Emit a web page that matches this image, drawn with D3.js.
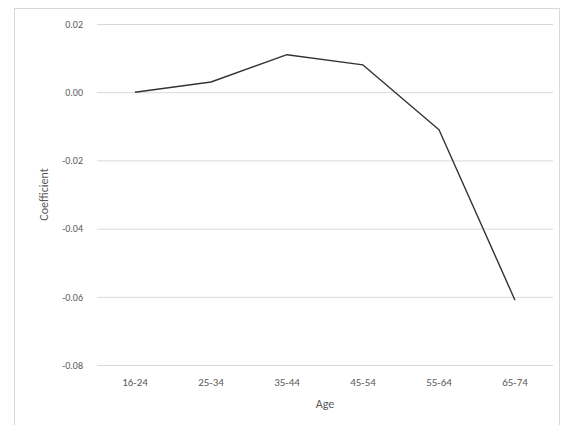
<!DOCTYPE html>
<html><head><meta charset="utf-8">
<script src="https://cdn.jsdelivr.net/npm/d3@7"></script>
<style>body{margin:0;background:#fff;} svg{display:block;}</style>
</head><body>
<svg id="c" width="566" height="425"></svg>
<script>
const categories = ["16-24","25-34","35-44","45-54","55-64","65-74"];
const coefficients = [0.000, 0.003, 0.011, 0.008, -0.011, -0.061];
const yTicks = [0.02, 0.00, -0.02, -0.04, -0.06, -0.08];

const svg = d3.select("#c");
const W = 566, H = 425;
const m = {left: 97, right: 13, top: 24, bottom: 60};

svg.append("rect").attr("x",14.5).attr("y",8.5).attr("width",545).attr("height",430)
  .attr("fill","#fff").attr("stroke","#d9d9d9").attr("stroke-width",1);

const x = d3.scaleBand().domain(categories).range([m.left, W - m.right]);
const y = d3.scaleLinear().domain([-0.08, 0.02]).range([H - m.bottom, m.top]);

const font = "Carlito, 'Liberation Sans', Arial, sans-serif";
const fmt = d => d3.format(".2f")(d).replace("\u2212", "-");

const yAxis = d3.axisLeft(y).tickValues(yTicks).tickFormat(fmt)
  .tickSize(-(W - m.right - m.left)).tickPadding(14);
const gy = svg.append("g").attr("transform", `translate(${m.left},0)`).call(yAxis);
gy.select(".domain").remove();
gy.selectAll(".tick line").attr("stroke","#d9d9d9").attr("stroke-width",1);
gy.selectAll(".tick text").attr("fill","#595959").style("font-family",font).style("font-size","10px");

const xAxis = d3.axisBottom(x).tickSize(0).tickPadding(13);
const gx = svg.append("g").attr("transform", `translate(0,${H - m.bottom})`).call(xAxis);
gx.select(".domain").remove();
gx.selectAll(".tick text").attr("fill","#595959").style("font-family",font).style("font-size","11px");

const line = d3.line().x((d,i) => x(categories[i]) + x.bandwidth()/2).y(d => y(d));
svg.append("path").datum(coefficients).attr("d", line)
  .attr("fill","none").attr("stroke","#333333").attr("stroke-width",1.4).attr("stroke-linejoin","round");

svg.append("text").attr("x", (m.left + W - m.right)/2).attr("y", 408)
  .attr("text-anchor","middle").attr("fill","#595959")
  .style("font-family",font).style("font-size","12px").text("Age");

svg.append("text").attr("transform", `translate(48,${(m.top + H - m.bottom)/2}) rotate(-90)`)
  .attr("text-anchor","middle").attr("fill","#595959")
  .style("font-family",font).style("font-size","12px").text("Coefficient");
</script>
</body></html>
